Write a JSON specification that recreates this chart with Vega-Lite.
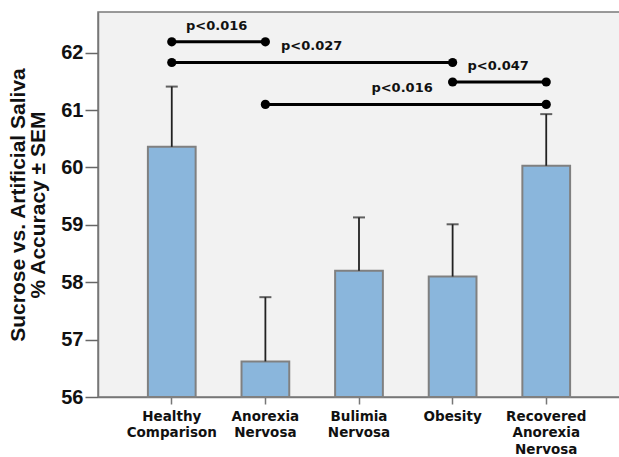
{
  "$schema": "https://vega.github.io/schema/vega-lite/v6.json",
  "width": 522,
  "height": 385,
  "autosize": {"type": "none"},
  "padding": {"left": 98, "top": 12, "right": 0, "bottom": 60},
  "background": "white",
  "config": {
    "view": {"fill": "#f2f2f2", "stroke": "#7a7a7a", "strokeWidth": 1.5}
  },
  "datasets": {
    "bars": [
      {"group": "Healthy Comparison", "mean": 60.36, "upper": 61.41},
      {"group": "Anorexia Nervosa", "mean": 56.62, "upper": 57.74},
      {"group": "Bulimia Nervosa", "mean": 58.2, "upper": 59.13},
      {"group": "Obesity", "mean": 58.1, "upper": 59.01},
      {"group": "Recovered Anorexia Nervosa", "mean": 60.03, "upper": 60.93}
    ],
    "brackets": [
      {"from": 0, "to": 1, "mid": 0.48, "level": 62.19, "label": "p<0.016"},
      {"from": 0, "to": 3, "mid": 1.495, "level": 61.83, "label": "p<0.027"},
      {"from": 3, "to": 4, "mid": 3.486, "level": 61.49, "label": "p<0.047"},
      {"from": 1, "to": 4, "mid": 2.46, "level": 61.1, "label": "p<0.016"}
    ]
  },
  "layer": [
    {
      "data": {"name": "bars"},
      "layer": [
        {
          "mark": {"type": "bar", "fill": "#8ab6dc", "stroke": "#808080", "strokeWidth": 2},
          "encoding": {
            "x": {
              "field": "group", "type": "nominal", "sort": null,
              "scale": {"paddingInner": 0.49, "paddingOuter": 0.533},
              "axis": {
                "title": null, "labelAngle": 0,
                "labelExpr": "split(datum.label, ' ')",
                "labelFont": "DejaVu Sans", "labelFontSize": 13.5, "labelFontWeight": "bold",
                "labelColor": "#111", "labelLineHeight": 16.5, "labelPadding": 5,
                "tickSize": 7, "tickColor": "#777", "tickWidth": 1.5,
                "domainColor": "#777", "domainWidth": 1.5
              }
            },
            "y": {
              "field": "mean", "type": "quantitative",
              "scale": {"domain": [56, 62.71], "nice": false, "zero": false},
              "axis": {
                "title": ["Sucrose vs. Artificial Saliva", "% Accuracy ± SEM"],
                "titleFont": "Liberation Sans", "titleFontSize": 21, "titleFontWeight": "bold",
                "titleLineHeight": 20, "titlePadding": 12, "titleColor": "#111",
                "values": [56, 57, 58, 59, 60, 61, 62], "format": "d",
                "labelFont": "Liberation Sans", "labelFontSize": 20, "labelFontWeight": "bold",
                "labelColor": "#111", "labelPadding": 2,
                "tickSize": 13, "tickColor": "#666", "tickWidth": 1.5,
                "domainColor": "#777", "domainWidth": 1.5, "grid": false
              }
            },
            "y2": {"datum": 56}
          }
        },
        {
          "mark": {"type": "rule", "color": "#222", "strokeWidth": 1.8},
          "encoding": {
            "x": {"field": "group", "type": "nominal", "sort": null},
            "y": {"field": "mean", "type": "quantitative"},
            "y2": {"field": "upper"}
          }
        },
        {
          "mark": {"type": "tick", "color": "#222", "size": 12, "thickness": 2},
          "encoding": {
            "x": {"field": "group", "type": "nominal", "sort": null},
            "y": {"field": "upper", "type": "quantitative"}
          }
        }
      ]
    },
    {
      "data": {"name": "brackets"},
      "layer": [
        {
          "mark": {"type": "rule", "color": "#000", "strokeWidth": 3},
          "encoding": {
            "x": {"field": "from", "type": "quantitative", "scale": {"domain": [-0.788, 4.788], "nice": false, "zero": false}, "axis": null},
            "x2": {"field": "to"},
            "y": {"field": "level", "type": "quantitative"}
          }
        },
        {
          "mark": {"type": "point", "filled": true, "color": "#000", "size": 85, "opacity": 1},
          "encoding": {
            "x": {"field": "from", "type": "quantitative"},
            "y": {"field": "level", "type": "quantitative"}
          }
        },
        {
          "mark": {"type": "point", "filled": true, "color": "#000", "size": 85, "opacity": 1},
          "encoding": {
            "x": {"field": "to", "type": "quantitative"},
            "y": {"field": "level", "type": "quantitative"}
          }
        },
        {
          "mark": {"type": "text", "font": "DejaVu Sans", "fontSize": 13, "fontWeight": "bold", "color": "#111", "baseline": "middle", "dy": -16},
          "encoding": {
            "x": {"field": "mid", "type": "quantitative"},
            "y": {"field": "level", "type": "quantitative"},
            "text": {"field": "label"}
          }
        }
      ]
    }
  ],
  "resolve": {"scale": {"x": "independent"}}
}
